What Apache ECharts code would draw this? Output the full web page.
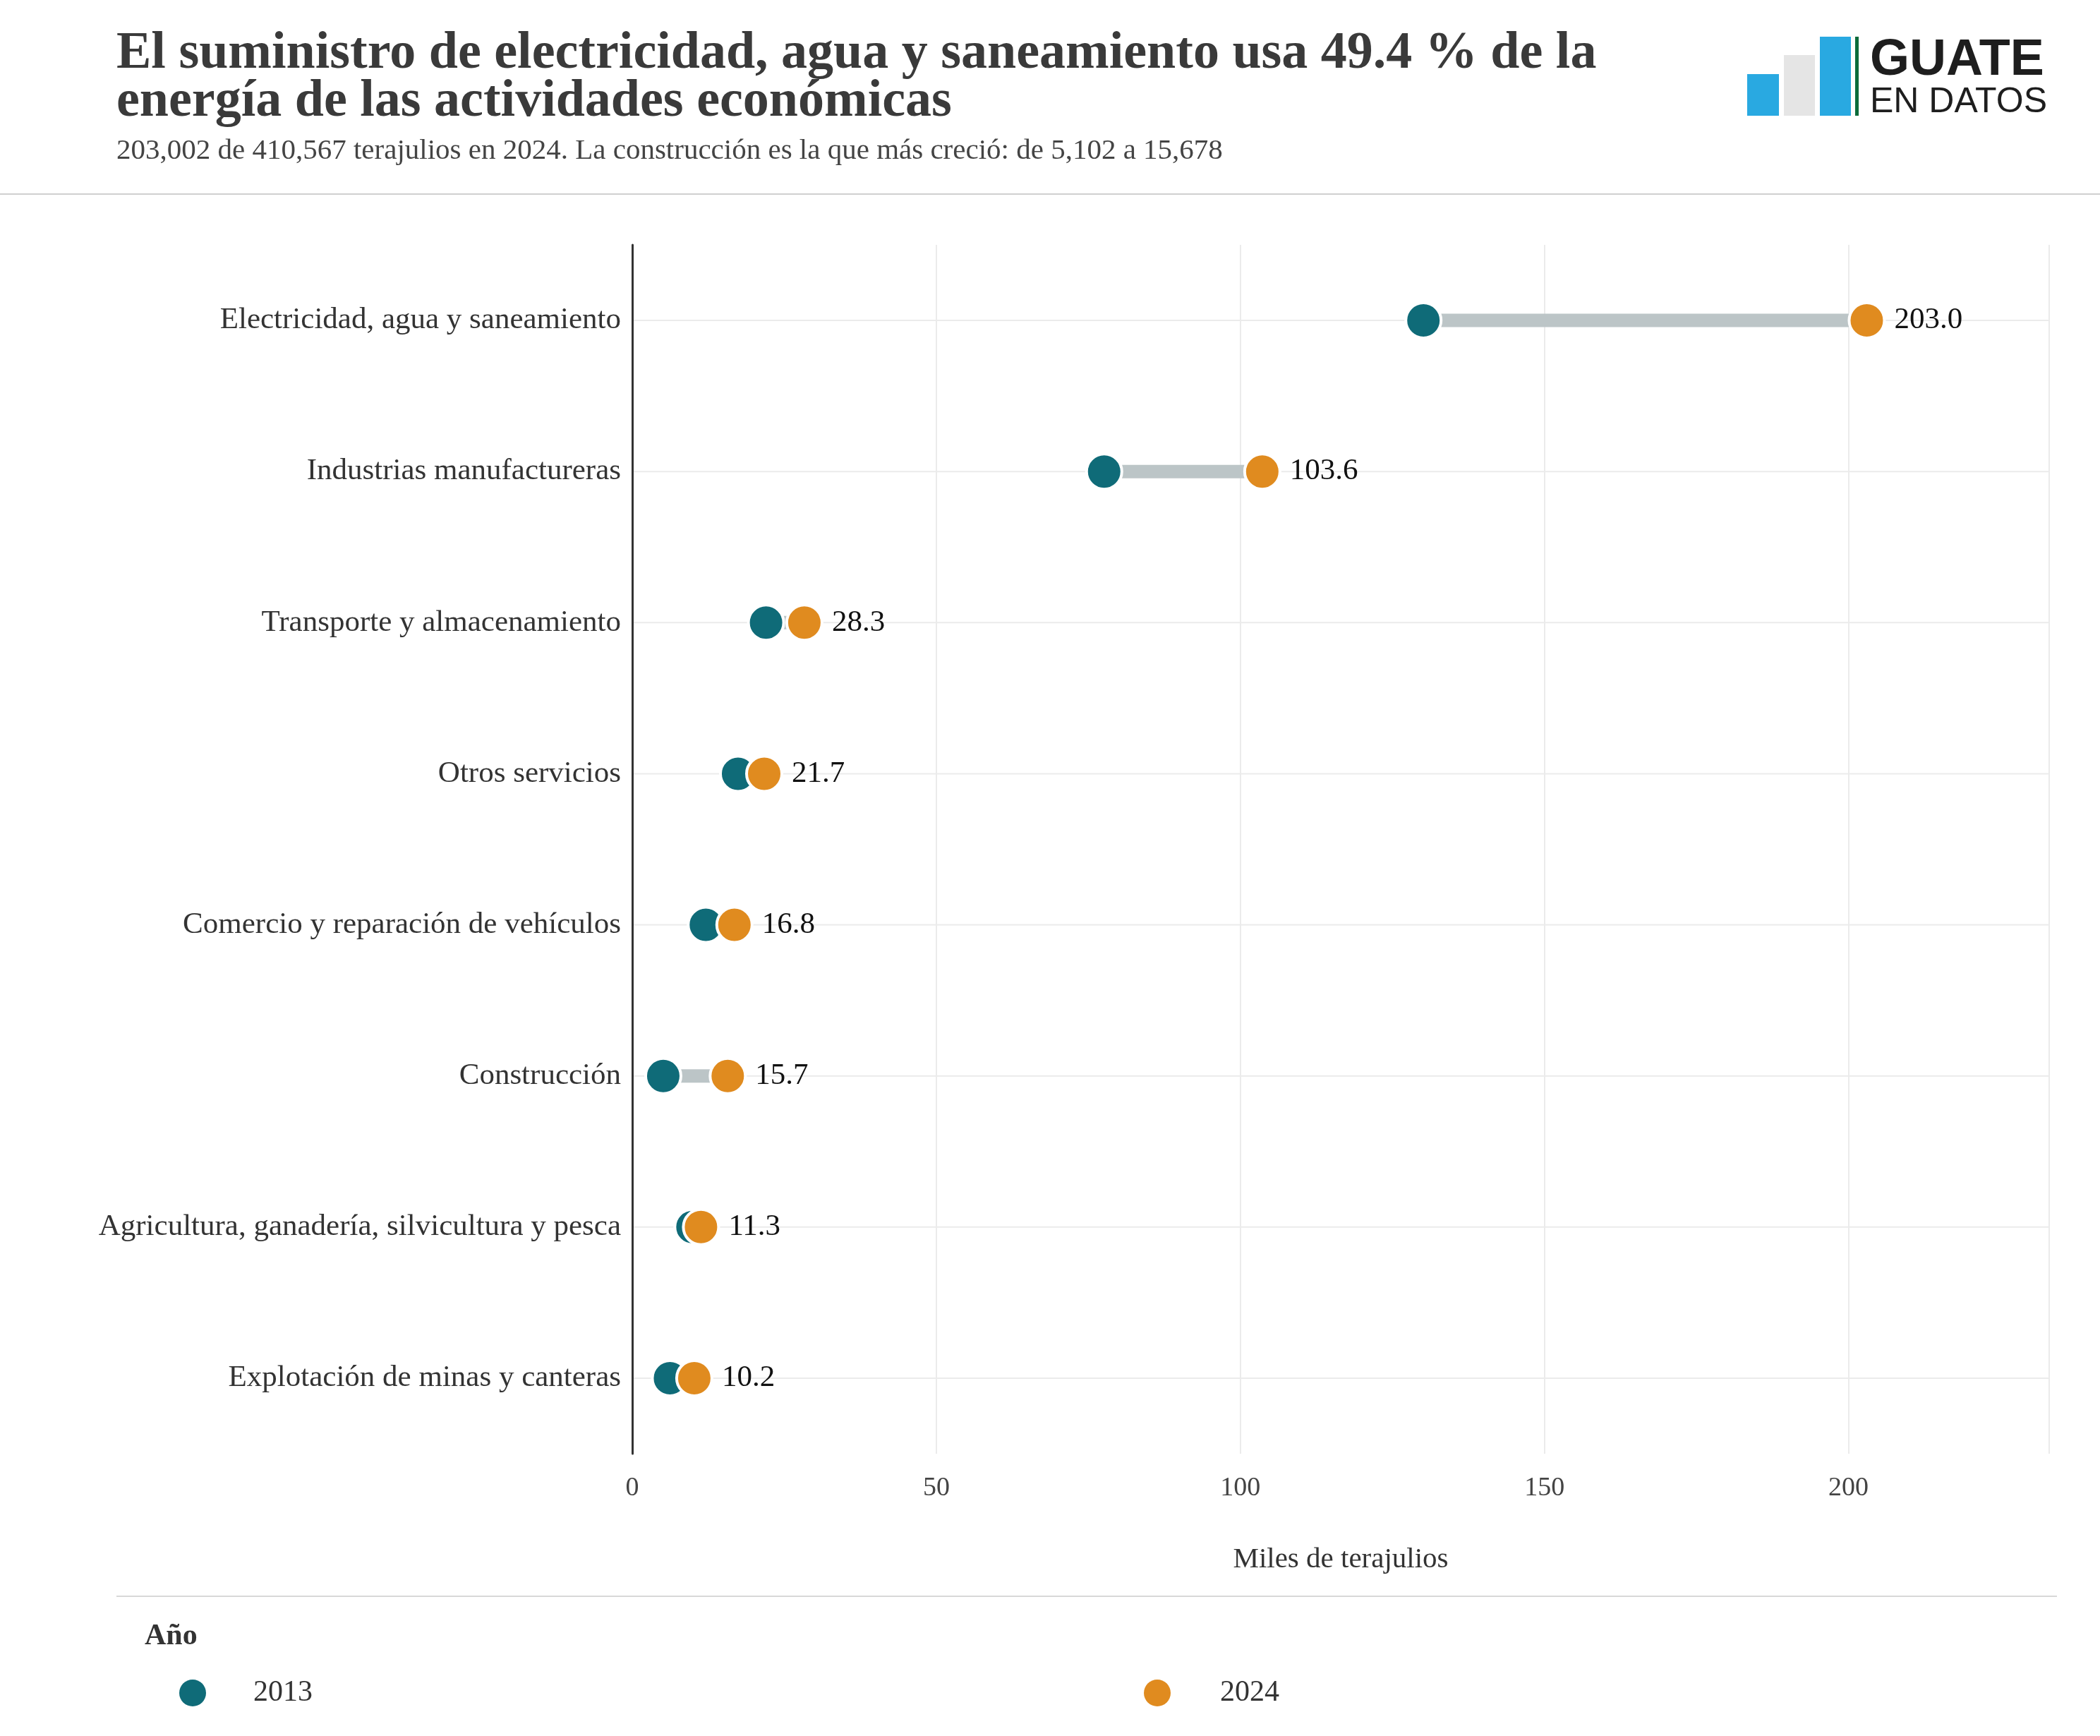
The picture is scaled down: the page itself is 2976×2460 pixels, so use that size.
<!DOCTYPE html>
<html style="height: 100%">
<head>
<meta charset="utf-8">
<script src="https://cdn.jsdelivr.net/npm/echarts@6/dist/echarts.min.js"></script>
</head>
<body style="height: 100%; margin: 0; background: #fff">
<div id="container" style="width: 2976px; height: 2460px"></div>
<script type="text/javascript">
var categories = ['Electricidad, agua y saneamiento', 'Industrias manufactureras', 'Transporte y almacenamiento',
  'Otros servicios', 'Comercio y reparación de vehículos', 'Construcción',
  'Agricultura, ganadería, silvicultura y pesca', 'Explotación de minas y canteras'];
var values2013 = [130.1, 77.6, 22.0, 17.4, 12.1, 5.1, 9.9, 6.2];
var values2024 = [203.0, 103.6, 28.3, 21.7, 16.8, 15.7, 11.3, 10.2];
var xTicks = [0, 50, 100, 150, 200];
var xMax = 233;

var teal = '#0f6b78', orange = '#e08b1f', serif = 'Liberation Serif';

var pairs = [];
for (var i = 0; i < categories.length; i++) pairs.push([i, values2013[i], values2024[i]]);

var dom = document.getElementById('container');
var myChart = echarts.init(dom);
var option = {
  animation: false,
  textStyle: { fontFamily: serif },
  grid: { left: 896, right: 72, top: 347, bottom: 400, containLabel: false },
  xAxis: {
    type: 'value', min: 0, max: xMax, interval: 50,
    axisLine: { show: false }, axisTick: { show: false },
    axisLabel: { color: '#444', fontSize: 38, margin: 30, fontFamily: serif,
      formatter: function (v) { return xTicks.indexOf(v) >= 0 ? v : ''; } },
    splitLine: { lineStyle: { color: '#ebebeb', width: 2 } },
    name: 'Miles de terajulios', nameLocation: 'middle', nameGap: 130,
    nameTextStyle: { color: '#333', fontSize: 41, fontFamily: serif }
  },
  yAxis: {
    type: 'category', data: categories, inverse: true,
    axisLine: { lineStyle: { color: '#333', width: 3 } },
    axisTick: { show: false },
    axisLabel: { color: '#333', fontSize: 43, margin: 16, fontFamily: serif },
    splitLine: { show: false }
  },
  series: [
    {
      type: 'custom', z: 1, data: pairs,
      renderItem: function (params, api) {
        var y = api.value(0);
        var g0 = api.coord([0, y]), g1 = api.coord([xMax, y]);
        var a = api.coord([api.value(1), y]), b = api.coord([api.value(2), y]);
        return { type: 'group', children: [
          { type: 'line', shape: { x1: g0[0] + 2, y1: g0[1], x2: g1[0], y2: g1[1] }, style: { stroke: '#ebebeb', lineWidth: 2 } },
          { type: 'line', shape: { x1: a[0], y1: a[1], x2: b[0], y2: b[1] }, style: { stroke: '#bcc5c7', lineWidth: 19 } }
        ] };
      }
    },
    {
      name: '2013', type: 'scatter', z: 3, symbolSize: 50,
      itemStyle: { color: teal, borderColor: '#fff', borderWidth: 4, opacity: 1 },
      data: values2013.map(function (v, i) { return [v, i]; })
    },
    {
      name: '2024', type: 'scatter', z: 4, symbolSize: 50,
      itemStyle: { color: orange, borderColor: '#fff', borderWidth: 4, opacity: 1 },
      label: { show: true, position: 'right', distance: 12, color: '#111', fontSize: 43, fontFamily: serif,
        formatter: function (p) { return p.value[0].toFixed(1); } },
      data: values2024.map(function (v, i) { return [v, i]; })
    }
  ],
  graphic: [
    { type: 'text', left: 165, top: 40, style: { text: 'El suministro de electricidad, agua y saneamiento usa 49.4 % de la\nenergía de las actividades económicas',
      font: 'bold 74px "Liberation Serif"', fill: '#3a3a3a', lineHeight: 68 } },
    { type: 'text', left: 165, top: 194, style: { text: '203,002 de 410,567 terajulios en 2024. La construcción es la que más creció: de 5,102 a 15,678',
      font: '41px "Liberation Serif"', fill: '#444' } },
    { type: 'rect', shape: { x: 0, y: 274, width: 2976, height: 2 }, style: { fill: '#d0d0d0' } },
    { type: 'rect', shape: { x: 165, y: 2261, width: 2750, height: 2 }, style: { fill: '#d8d8d8' } },
    // logo
    { type: 'rect', shape: { x: 2476, y: 105, width: 45, height: 59 }, style: { fill: '#29a9e1' } },
    { type: 'rect', shape: { x: 2528, y: 78, width: 44, height: 86 }, style: { fill: '#e5e5e5' } },
    { type: 'rect', shape: { x: 2579, y: 52, width: 44, height: 112 }, style: { fill: '#29a9e1' } },
    { type: 'rect', shape: { x: 2629, y: 52, width: 5, height: 112 }, style: { fill: '#0b6b3a' } },
    { type: 'text', left: 2650, top: 50, style: { text: 'GUATE', font: 'bold 72px "Liberation Sans"', fill: '#1e1e1e' } },
    { type: 'text', left: 2650, top: 120, style: { text: 'EN DATOS', font: '50px "Liberation Sans"', fill: '#1e1e1e' } },
    // legend
    { type: 'text', left: 205, top: 2298, style: { text: 'Año', font: 'bold 42px "Liberation Serif"', fill: '#333' } },
    { type: 'circle', shape: { cx: 273, cy: 2399, r: 19 }, style: { fill: teal } },
    { type: 'text', left: 359, top: 2378, style: { text: '2013', font: '42px "Liberation Serif"', fill: '#333' } },
    { type: 'circle', shape: { cx: 1640, cy: 2399, r: 19 }, style: { fill: orange } },
    { type: 'text', left: 1729, top: 2378, style: { text: '2024', font: '42px "Liberation Serif"', fill: '#333' } }
  ]
};
myChart.setOption(option, true);
window.onresize = function () { myChart.resize(); };
</script>
</body>
</html>
